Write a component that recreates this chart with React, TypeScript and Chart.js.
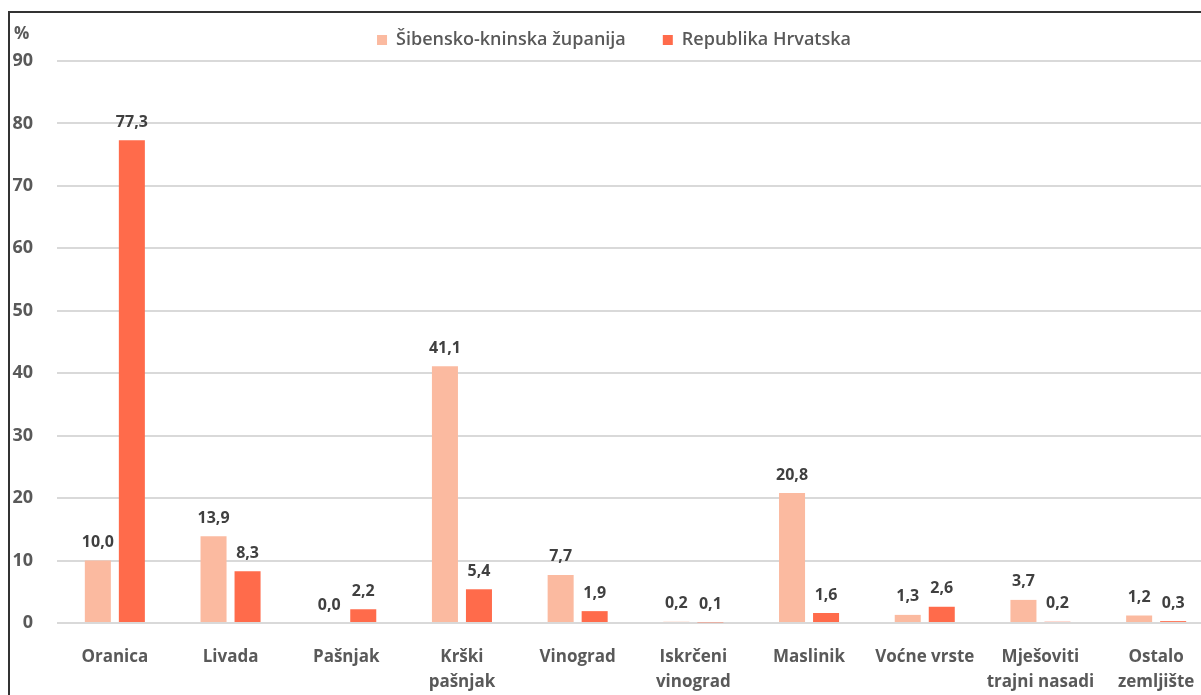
import React, { useEffect, useRef } from "react";
import { Chart, registerables } from "chart.js";

Chart.register(...registerables);

const categories: string[][] = [
  ["Oranica"],
  ["Livada"],
  ["Pašnjak"],
  ["Krški", "pašnjak"],
  ["Vinograd"],
  ["Iskrčeni", "vinograd"],
  ["Maslinik"],
  ["Voćne vrste"],
  ["Mješoviti", "trajni nasadi"],
  ["Ostalo", "zemljište"],
];
const sibenikValues = [10.0, 13.9, 0.0, 41.1, 7.7, 0.2, 20.8, 1.3, 3.7, 1.2];
const hrvatskaValues = [77.3, 8.3, 2.2, 5.4, 1.9, 0.1, 1.6, 2.6, 0.2, 0.3];
const seriesNames = ["Šibensko-kninska županija", "Republika Hrvatska"];
const seriesColors = ["#FBBAA0", "#FF6B4B"];
const yMax = 90;
const yStep = 10;
const axisUnit = "%";

const FONT = "'Open Sans', Lato, sans-serif";

const labelPlugin = {
  id: "extras",
  afterDatasetsDraw(chart: any) {
    const ctx = chart.ctx;
    ctx.save();
    ctx.font = `bold 16px ${FONT}`;
    ctx.fillStyle = "#404040";
    ctx.textAlign = "center";
    ctx.textBaseline = "middle";
    chart.data.datasets.forEach((ds: any, di: number) => {
      const meta = chart.getDatasetMeta(di);
      meta.data.forEach((bar: any, i: number) => {
        const v = ds.data[i] as number;
        ctx.fillText(v.toFixed(1).replace(".", ","), bar.x, bar.y - 18);
      });
    });
    ctx.font = `bold 17px ${FONT}`;
    ctx.fillStyle = "#595959";
    ctx.textAlign = "left";
    ctx.fillText(axisUnit, 14, 34);

    // legend
    ctx.font = `600 18px ${FONT}`;
    ctx.textBaseline = "middle";
    const items = seriesNames.map((n) => ({ n, w: ctx.measureText(n).width }));
    const box = 10;
    const gapBoxText = 9;
    const gapItems = 37;
    const total = items.reduce((s, it) => s + box + gapBoxText + it.w, 0) + gapItems * (items.length - 1);
    let x = 614 - total / 2;
    const y = 40;
    items.forEach((it, i) => {
      ctx.fillStyle = seriesColors[i];
      ctx.fillRect(x, y - box / 2, box, box);
      x += box + gapBoxText;
      ctx.fillStyle = "#595959";
      ctx.fillText(it.n, x, y);
      x += it.w + gapItems;
    });
    ctx.restore();
  },
};

export default function App() {
  const ref = useRef<HTMLCanvasElement | null>(null);
  useEffect(() => {
    if (!ref.current) return;
    const chart = new Chart(ref.current, {
      type: "bar",
      data: {
        labels: categories,
        datasets: [
          {
            label: seriesNames[0],
            data: sibenikValues,
            backgroundColor: seriesColors[0],
            categoryPercentage: 0.588,
            barPercentage: 0.765,
          },
          {
            label: seriesNames[1],
            data: hrvatskaValues,
            backgroundColor: seriesColors[1],
            categoryPercentage: 0.588,
            barPercentage: 0.765,
          },
        ],
      },
      options: {
        responsive: false,
        animation: false,
        layout: { padding: { top: 61, left: 0, right: 0, bottom: 0 } },
        plugins: {
          legend: { display: false },
          tooltip: { enabled: false },
        },
        scales: {
          x: {
            grid: { display: false },
            border: { display: false },
            ticks: {
              color: "#595959",
              font: { family: FONT, size: 17, weight: "bold", lineHeight: 1.47 },
              padding: 14,
              maxRotation: 0,
              autoSkip: false,
            },
            afterFit(scale: any) {
              scale.height = 72;
            },
          },
          y: {
            min: 0,
            max: yMax,
            grid: { color: "#D9D9D9", lineWidth: 2, drawTicks: false },
            border: { display: false },
            ticks: {
              stepSize: yStep,
              color: "#595959",
              font: { family: FONT, size: 18, weight: "bold" },
              padding: 24,
            },
            afterFit(scale: any) {
              scale.width = 57;
            },
          },
        },
      },
      plugins: [labelPlugin],
    });
    return () => chart.destroy();
  }, []);

  return (
    <div
      style={{
        position: "fixed",
        left: 0,
        top: 0,
        width: 1201,
        height: 695,
        overflow: "hidden",
        background: "#fff",
      }}
    >
      <canvas
        ref={ref}
        width={1214}
        height={695}
        style={{ position: "absolute", left: 0, top: 0, width: 1214, height: 695 }}
      />
      <div
        style={{
          position: "absolute",
          left: 8,
          top: 11,
          width: 1300,
          height: 800,
          borderLeft: "2px solid #333",
          borderTop: "2px solid #333",
          pointerEvents: "none",
        }}
      />
    </div>
  );
}
